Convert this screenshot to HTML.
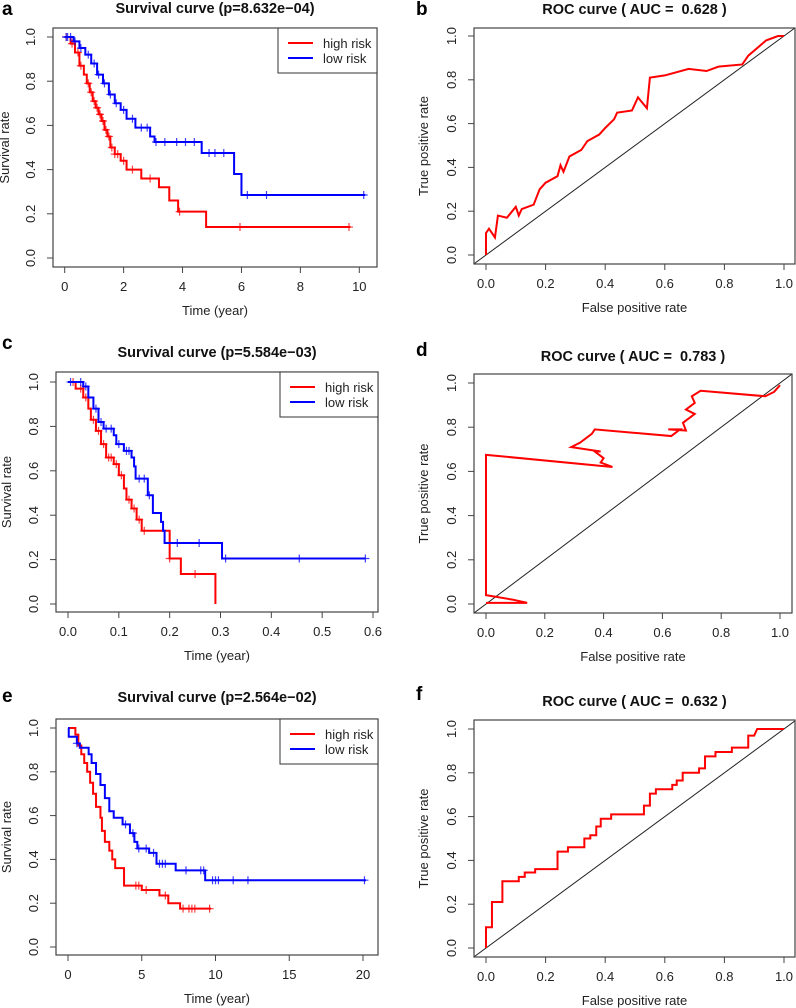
<!DOCTYPE html>
<html><head><meta charset="utf-8"><style>
html,body{margin:0;padding:0;background:#fff;}
svg{display:block;font-family:"Liberation Sans",sans-serif;}
</style></head><body>
<svg id="fig" width="796" height="1008" viewBox="0 0 796 1008" xmlns="http://www.w3.org/2000/svg"></svg>
<script>
// ---- Data ----
const aHighT=[0,0.2,0.35,0.5,0.65,0.75,0.85,0.95,1.05,1.15,1.25,1.35,1.45,1.55,1.7,1.9,2.1,2.6,3.2,3.55,3.85,4.8];
const aHighS=[1.0,0.97,0.93,0.87,0.83,0.79,0.75,0.71,0.68,0.65,0.62,0.58,0.55,0.5,0.47,0.44,0.4,0.36,0.32,0.26,0.21,0.14];
const aHighEnd=9.7;
const aHighCens=[0.05,0.25,0.45,0.55,0.8,0.9,1.0,1.1,1.2,1.3,1.4,1.5,1.6,1.7,1.8,2.0,2.3,2.9,3.9,5.95,9.65];
const aLowT=[0,0.3,0.5,0.7,0.9,1.1,1.3,1.5,1.7,1.9,2.1,2.4,2.9,3.05,4.65,5.75,6.0];
const aLowS=[1.0,0.98,0.95,0.92,0.88,0.83,0.79,0.74,0.7,0.67,0.63,0.59,0.55,0.525,0.475,0.38,0.285];
const aLowEnd=10.2;
const aLowCens=[0.05,0.1,0.2,0.35,0.55,0.8,1.0,1.15,1.35,1.55,1.75,2.0,2.3,2.6,2.8,3.1,3.4,3.8,4.1,4.4,4.9,5.1,5.4,6.2,6.85,10.15];
const cHighT=[0,0.015,0.03,0.04,0.045,0.055,0.065,0.075,0.09,0.1,0.11,0.115,0.125,0.135,0.145,0.2,0.222,0.29];
const cHighS=[1.0,0.97,0.93,0.88,0.83,0.78,0.72,0.66,0.63,0.58,0.52,0.47,0.43,0.38,0.33,0.205,0.135,0.0];
const cHighEnd=0.29;
const cHighCens=[0.01,0.025,0.035,0.05,0.06,0.07,0.08,0.085,0.095,0.105,0.12,0.13,0.14,0.15,0.2,0.25];
const cLowT=[0,0.03,0.04,0.05,0.06,0.07,0.09,0.095,0.11,0.125,0.13,0.133,0.157,0.167,0.183,0.187,0.19,0.303];
const cLowS=[1.0,0.98,0.93,0.88,0.82,0.79,0.76,0.72,0.69,0.66,0.62,0.565,0.49,0.41,0.37,0.33,0.275,0.205];
const cLowEnd=0.585;
const cLowCens=[0.005,0.025,0.035,0.055,0.065,0.075,0.085,0.1,0.115,0.12,0.14,0.15,0.16,0.215,0.258,0.31,0.455,0.585];
const eHighT=[0,0.5,0.7,0.9,1.1,1.3,1.5,1.7,1.9,2.2,2.3,2.5,2.8,3.0,3.2,3.8,5.0,6.2,6.8,7.6];
const eHighS=[1.0,0.97,0.92,0.88,0.84,0.8,0.75,0.7,0.64,0.59,0.53,0.48,0.44,0.4,0.36,0.28,0.26,0.235,0.2,0.175];
const eHighEnd=9.7;
const eHighCens=[4.6,4.8,5.3,6.6,7.8,8.2,8.4,8.6,9.6];
const eLowT=[0,0.05,0.6,0.8,1.4,1.6,1.9,2.2,2.5,2.8,3.1,3.7,4.2,4.5,4.7,5.5,6.0,7.3,9.3];
const eLowS=[1.0,0.96,0.93,0.91,0.88,0.84,0.79,0.74,0.68,0.62,0.59,0.56,0.52,0.48,0.45,0.43,0.38,0.35,0.305];
const eLowEnd=20.2;
const eLowCens=[0.6,3.9,4.4,4.8,5.3,5.8,6.2,6.4,6.6,8.0,9.0,9.2,9.8,10.0,10.2,11.2,12.2,20.1];
const bFpr=[0,0,0.01,0.02,0.03,0.04,0.07,0.1,0.11,0.12,0.16,0.18,0.2,0.24,0.25,0.26,0.28,0.32,0.34,0.38,0.4,0.43,0.44,0.49,0.51,0.54,0.55,0.6,0.68,0.74,0.78,0.86,0.88,0.94,0.98,1];
const bTpr=[0,0.1,0.12,0.1,0.08,0.18,0.17,0.22,0.18,0.21,0.23,0.3,0.33,0.36,0.41,0.38,0.45,0.48,0.52,0.55,0.58,0.62,0.65,0.66,0.72,0.67,0.81,0.82,0.85,0.84,0.86,0.87,0.91,0.98,1.0,1.0];
const dFpr=[0,0.14,0.09,0,0,0.43,0.39,0.4,0.37,0.39,0.29,0.32,0.36,0.37,0.63,0.66,0.62,0.68,0.67,0.71,0.68,0.71,0.7,0.73,0.95,0.98,1];
const dTpr=[0.005,0.005,0.02,0.04,0.675,0.62,0.64,0.66,0.69,0.69,0.71,0.73,0.77,0.79,0.76,0.79,0.79,0.785,0.82,0.86,0.88,0.91,0.94,0.965,0.94,0.96,0.99];
const fFpr=[0,0,0.02,0.02,0.055,0.055,0.11,0.11,0.13,0.13,0.165,0.165,0.24,0.24,0.275,0.275,0.33,0.33,0.35,0.35,0.37,0.37,0.385,0.385,0.42,0.42,0.53,0.53,0.55,0.55,0.57,0.57,0.625,0.625,0.64,0.64,0.66,0.66,0.715,0.715,0.735,0.735,0.77,0.77,0.825,0.825,0.88,0.88,0.9,0.91,1];
const fTpr=[0,0.095,0.095,0.21,0.21,0.305,0.305,0.325,0.325,0.345,0.345,0.36,0.36,0.44,0.44,0.46,0.46,0.5,0.5,0.515,0.515,0.555,0.555,0.59,0.59,0.61,0.61,0.65,0.65,0.705,0.705,0.725,0.725,0.745,0.745,0.765,0.765,0.8,0.8,0.82,0.82,0.875,0.875,0.895,0.895,0.915,0.915,0.97,0.97,1,1];
const survYTicks=[0,0.2,0.4,0.6,0.8,1.0];
const rocTicks=[0,0.2,0.4,0.6,0.8,1.0];
const aXTicks=[0,2,4,6,8,10];
const cXTicks=[0,0.1,0.2,0.3,0.4,0.5,0.6];
const eXTicks=[0,5,10,15,20];

const NS="http://www.w3.org/2000/svg";
const svg=document.getElementById('fig');
function mk(tag,attrs,parent,text){const e=document.createElementNS(NS,tag);for(const k in attrs)e.setAttribute(k,attrs[k]);if(text!==undefined)e.textContent=text;(parent||svg).appendChild(e);return e;}

function panel(cfg){
  const g=mk('g',{});
  
  
  const sx=v=>cfg.px0+(v-cfg.xt[0])/(cfg.xt[cfg.xt.length-1]-cfg.xt[0])*(cfg.px1-cfg.px0);
  const sy=v=>cfg.py0+(v-0)/(1-0)*(cfg.py1-cfg.py0);
  const L=mk('text',{x:cfg.lx,y:cfg.ly,'font-size':19,'font-weight':'bold',fill:'#000'},g,cfg.letter);
  
  
  const T=mk('text',{x:(cfg.bx0+cfg.bx1)/2,y:cfg.ty,'font-size':14.5,'font-weight':'bold','text-anchor':'middle',fill:'#111'},g,cfg.title);
  
  
  const cid='clip'+cfg.letter;
  const cp=mk('clipPath',{id:cid},g);mk('rect',{x:cfg.bx0,y:cfg.by0,width:cfg.bx1-cfg.bx0,height:cfg.by1-cfg.by0},cp);
  const plot=mk('g',{'clip-path':'url(#'+cid+')'},g);
  
  
  cfg.xt.forEach((t,i)=>{
    const x=sx(t);
    mk('line',{x1:x,x2:x,y1:cfg.by1,y2:cfg.by1+6,stroke:'#444','stroke-width':1},g);
    const tl=mk('text',{x:x,y:cfg.by1+24,'font-size':13,'text-anchor':'middle',fill:'#222'},g,cfg.xl[i]);
    
    
  });
  survYTicks.forEach(t=>{
    const y=sy(t);
    mk('line',{x1:cfg.bx0,x2:cfg.bx0-6,y1:y,y2:y,stroke:'#444','stroke-width':1},g);
    const tl=mk('text',{x:cfg.bx0-18,y:y,'font-size':13,'text-anchor':'middle',fill:'#222',transform:'rotate(-90 '+(cfg.bx0-18)+' '+y+')'},g,t.toFixed(1));
    
    
  });
  const xt=mk('text',{x:(cfg.bx0+cfg.bx1)/2,y:cfg.by1+48,'font-size':13,'text-anchor':'middle',fill:'#222'},g,cfg.xlab);
  
  
  const yx=cfg.bx0-cfg.ylabOff, yy=(cfg.by0+cfg.by1)/2;
  const yt=mk('text',{x:yx,y:yy,'font-size':13,'text-anchor':'middle',fill:'#222',transform:'rotate(-90 '+yx+' '+yy+')'},g,cfg.ylab);
  
  
  cfg.draw(plot,sx,sy);
  const box=mk('rect',{x:cfg.bx0,y:cfg.by0,width:cfg.bx1-cfg.bx0,height:cfg.by1-cfg.by0,fill:'none',stroke:'#444','stroke-width':1.2},g);
  
  
  if(cfg.legend){
    const lg=mk('g',{},g);
    
    
    const lx=cfg.legend[0],ly=cfg.by0;
    mk('rect',{x:lx,y:ly,width:cfg.bx1-lx,height:45,fill:'#fff',stroke:'#333','stroke-width':1},lg);
    [['high risk','#f00'],['low risk','#00f']].forEach((r,i)=>{
      const yy=ly+15+i*15;
      const ln=mk('line',{x1:lx+10,x2:lx+35,y1:yy,y2:yy,stroke:r[1],'stroke-width':2},lg);
      
      
      const tx=mk('text',{x:lx+45,y:yy+5,'font-size':13,fill:'#222'},lg,r[0]);
      
      
    });
  }
}
function stepAt(T,S,t){let s=S[0];for(let i=0;i<T.length;i++){if(T[i]<=t)s=S[i];}return s;}
function km(plot,sx,sy,T,S,end,cens,col,name){
  let d='M'+sx(T[0])+' '+sy(S[0]);
  for(let i=1;i<T.length;i++){d+=' H'+sx(T[i])+' V'+sy(S[i]);}
  d+=' H'+sx(end);
  const p=mk('path',{d:d,fill:'none',stroke:col,'stroke-width':2},plot);
  
  
  cens.forEach(t=>{
    const x=sx(t),y=sy(stepAt(T,S,t));
    const c=mk('path',{d:'M'+(x-4)+' '+y+' H'+(x+4)+' M'+x+' '+(y-4)+' V'+(y+4),stroke:col,'stroke-width':1.2,opacity:0.75},plot);
    
    
  });
}
function roc(plot,sx,sy,F,Tp){
  const dg=mk('line',{x1:sx(-0.05),y1:sy(-0.05),x2:sx(1.05),y2:sy(1.05),stroke:'#222','stroke-width':1},plot);
  
  
  const pts=F.map((f,i)=>sx(f)+','+sy(Tp[i])).join(' ');
  const pl=mk('polyline',{points:pts,fill:'none',stroke:'#f00','stroke-width':2},plot);
  
  
}
const fmt1=v=>v.toFixed(1);
panel({name:'panel-a-survival',letter:'a',lx:2,ly:15,title:'Survival curve (p=8.632e\u221204)',ty:13,
  bx0:53,bx1:377,by0:28,by1:267,px0:64.7,px1:359.3,py0:258,py1:37,xt:aXTicks,xl:aXTicks.map(String),
  xlab:'Time (year)',ylab:'Survival rate',ylabOff:44,legend:[278],
  draw:(p,sx,sy)=>{km(p,sx,sy,aHighT,aHighS,aHighEnd,aHighCens,'#f00','high-risk');km(p,sx,sy,aLowT,aLowS,aLowEnd,aLowCens,'#00f','low-risk');}});
panel({name:'panel-b-roc',letter:'b',lx:416,ly:15,title:'ROC curve ( AUC =\u00a0 0.628 )',ty:14,
  bx0:474,bx1:795,by0:28,by1:264,px0:486,px1:784,py0:255,py1:36,xt:rocTicks,xl:rocTicks.map(fmt1),
  xlab:'False positive rate',ylab:'True positive rate',ylabOff:46,
  draw:(p,sx,sy)=>roc(p,sx,sy,bFpr,bTpr)});
panel({name:'panel-c-survival',letter:'c',lx:2,ly:349,title:'Survival curve (p=5.584e\u221203)',ty:357,
  bx0:56,bx1:378,by0:372,by1:612,px0:68,px1:373,py0:604,py1:382,xt:cXTicks,xl:cXTicks.map(fmt1),
  xlab:'Time (year)',ylab:'Survival rate',ylabOff:45,legend:[280],
  draw:(p,sx,sy)=>{km(p,sx,sy,cHighT,cHighS,cHighEnd,cHighCens,'#f00','high-risk');km(p,sx,sy,cLowT,cLowS,cLowEnd,cLowCens,'#00f','low-risk');}});
panel({name:'panel-d-roc',letter:'d',lx:416,ly:356,title:'ROC curve ( AUC =\u00a0 0.783 )',ty:361,
  bx0:474,bx1:792,by0:374,by1:613,px0:486,px1:780,py0:604,py1:383,xt:rocTicks,xl:rocTicks.map(fmt1),
  xlab:'False positive rate',ylab:'True positive rate',ylabOff:46,
  draw:(p,sx,sy)=>roc(p,sx,sy,dFpr,dTpr)});
panel({name:'panel-e-survival',letter:'e',lx:2,ly:702,title:'Survival curve (p=2.564e\u221202)',ty:702,
  bx0:56,bx1:378,by0:719,by1:955,px0:68,px1:363,py0:947,py1:728,xt:eXTicks,xl:eXTicks.map(String),
  xlab:'Time (year)',ylab:'Survival rate',ylabOff:45,legend:[280],
  draw:(p,sx,sy)=>{km(p,sx,sy,eHighT,eHighS,eHighEnd,eHighCens,'#f00','high-risk');km(p,sx,sy,eLowT,eLowS,eLowEnd,eLowCens,'#00f','low-risk');}});
panel({name:'panel-f-roc',letter:'f',lx:416,ly:700,title:'ROC curve ( AUC =\u00a0 0.632 )',ty:706,
  bx0:474,bx1:795,by0:720,by1:957,px0:486,px1:784,py0:948,py1:729,xt:rocTicks,xl:rocTicks.map(fmt1),
  xlab:'False positive rate',ylab:'True positive rate',ylabOff:46,
  draw:(p,sx,sy)=>roc(p,sx,sy,fFpr,fTpr)});
</script>
</body></html>
